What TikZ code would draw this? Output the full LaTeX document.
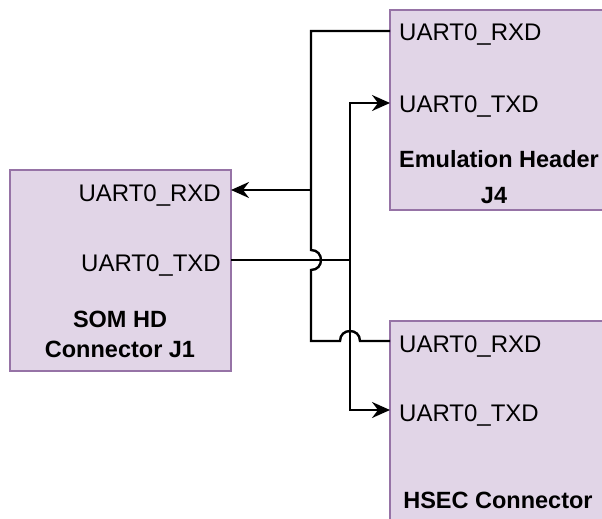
\documentclass[tikz,border=0pt]{standalone}
\usepackage{fontspec}
\setmainfont{Liberation Sans}
\usetikzlibrary{arrows.meta}
\definecolor{boxfill}{HTML}{E1D5E7}
\definecolor{boxline}{HTML}{9673A6}
\tikzset{
  box/.style={draw=boxline, fill=boxfill, line width=2pt},
  lbl/.style={inner sep=0pt, font=\fontsize{24}{28}\selectfont},
  ttl/.style={inner sep=0pt, font=\fontsize{23.5}{28}\selectfont\bfseries},
  wire/.style={line width=2.4pt, black},
  arr/.style={wire, -{Stealth[length=18pt,width=16pt,inset=6pt]}}
}
\begin{document}
\begin{tikzpicture}[x=1pt,y=-1pt]
\useasboundingbox (0,0) rectangle (602,519);
\clip (0,0) rectangle (602,519);
% boxes
\draw[box] (10,170) rectangle (231,371);
\draw[box] (390,10) rectangle (640,210);
\draw[box] (390,321) rectangle (640,560);
% labels
\node[lbl, anchor=base east] (somrx) at (221,201.5) {UART0\_RXD};
\node[lbl, anchor=base east] (somtx) at (221,271) {UART0\_TXD};
\node[ttl, anchor=base] (somt1) at (120,327) {SOM HD};
\node[ttl, anchor=base] (somt2) at (120,357) {Connector J1};
\node[lbl, anchor=base west] (emurx) at (399,41) {UART0\_RXD};
\node[lbl, anchor=base west] (emutx) at (399,112) {UART0\_TXD};
\node[ttl, anchor=base] (emut1) at (499,167) {Emulation Header};
\node[ttl, anchor=base] (emut2) at (494,203) {J4};
\node[lbl, anchor=base west] (hsrx) at (399,352) {UART0\_RXD};
\node[lbl, anchor=base west] (hstx) at (399,421) {UART0\_TXD};
\node[ttl, anchor=base] (hst1) at (498,508) {HSEC Connector};
% pins
\coordinate (pSomRx) at (231,190);
\coordinate (pSomTx) at (231,260);
\coordinate (pEmuRx) at (390,31);
\coordinate (pEmuTx) at (390,103);
\coordinate (pHsRx) at (390,341);
\coordinate (pHsTx) at (390,410);
\coordinate (bx1) at (311,0);
\coordinate (bx2) at (350,0);
% RXD net (with line jumps)
\draw[wire] (pEmuRx) -- (pEmuRx -| bx1) -- (311,250)
  .. controls (324.3,250) and (324.3,270) .. (311,270)
  -- (pHsRx -| bx1) -- (340,341)
  .. controls (340,327.7) and (360,327.7) .. (360,341) -- (pHsRx);
\draw[arr] (pSomRx -| bx1) -- (pSomRx);
% TXD net
\draw[wire] (pSomTx) -- (pSomTx -| bx2);
\draw[arr] (pSomTx -| bx2) |- (pEmuTx);
\draw[arr] (pSomTx -| bx2) |- (pHsTx);
\end{tikzpicture}
\end{document}
